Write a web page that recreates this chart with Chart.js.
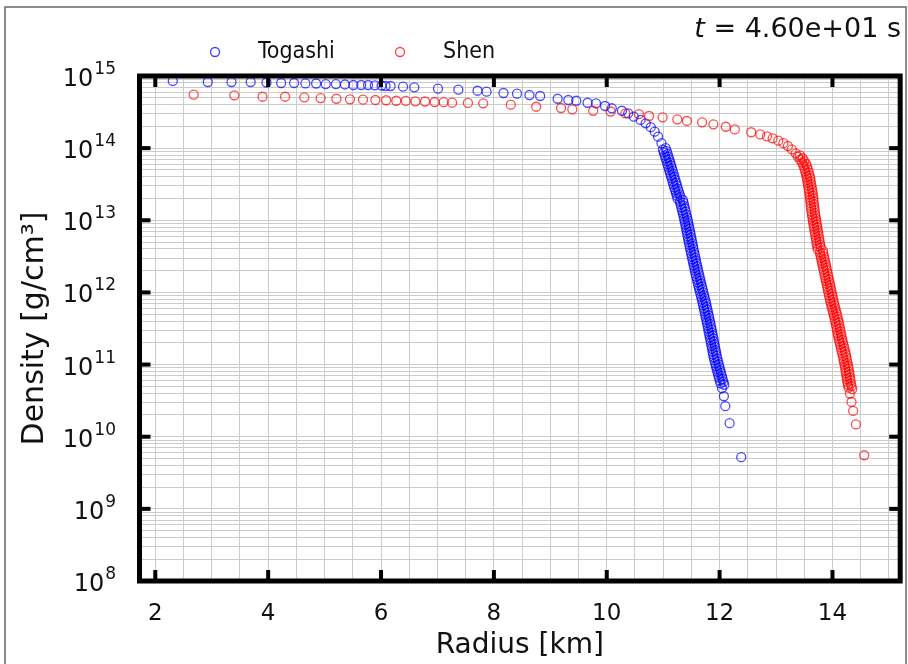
<!DOCTYPE html>
<html>
<head>
<meta charset="utf-8">
<script src="https://cdn.jsdelivr.net/npm/chart.js@4.4.1/dist/chart.umd.min.js"></script>
<style>
  html, body { margin: 0; padding: 0; background: #fff; }
  canvas { display: block; }
</style>
</head>
<body>
<canvas id="density-chart" width="908" height="664"></canvas>
<script>
// radius [km] and density [g/cm^3]
// (the steep parts are a dense band of overlapping markers)
const togashiRadius = [
  2.31, 2.93, 3.35, 3.69, 3.97, 4.23, 4.46, 4.66, 4.85, 5.02,
  5.20, 5.36, 5.51, 5.65, 5.77, 5.89, 6.01, 6.08, 6.17, 6.39,
  6.59, 7.01, 7.37, 7.71, 7.87, 8.17, 8.41, 8.63, 8.82, 9.13,
  9.32, 9.46, 9.66, 9.81, 9.97, 10.09, 10.27, 10.38, 10.48, 10.60,
  10.69, 10.78, 10.85, 10.91, 10.97,
  11.044, 10.994, 11.063, 11.011, 11.079, 11.027, 11.094, 11.042, 11.110, 11.058,
  11.126, 11.074, 11.141, 11.089, 11.156, 11.104, 11.171, 11.119, 11.186, 11.134,
  11.201, 11.149, 11.216, 11.164, 11.231, 11.179, 11.246, 11.194, 11.261, 11.209,
  11.277, 11.225, 11.292, 11.240, 11.307, 11.253, 11.349, 11.296, 11.362, 11.309,
  11.375, 11.321, 11.387, 11.334, 11.400, 11.347, 11.413, 11.359, 11.425, 11.371,
  11.436, 11.381, 11.446, 11.392, 11.457, 11.402, 11.467, 11.413, 11.478, 11.423,
  11.488, 11.433, 11.498, 11.443, 11.508, 11.453, 11.518, 11.463, 11.528, 11.474,
  11.539, 11.484, 11.549, 11.495, 11.560, 11.506, 11.571, 11.517, 11.582, 11.528,
  11.593, 11.539, 11.604, 11.550, 11.615, 11.561, 11.627, 11.573, 11.639, 11.585,
  11.651, 11.597, 11.663, 11.609, 11.675, 11.621, 11.687, 11.634, 11.700, 11.646,
  11.712, 11.659, 11.725, 11.672, 11.738, 11.685, 11.751, 11.697, 11.763, 11.709,
  11.774, 11.720, 11.785, 11.731, 11.796, 11.742, 11.807, 11.753, 11.818, 11.764,
  11.829, 11.775, 11.840, 11.785, 11.850, 11.795, 11.860, 11.805, 11.870, 11.815,
  11.880, 11.826, 11.891, 11.836, 11.900, 11.845, 11.910, 11.855, 11.920, 11.865,
  11.930, 11.875, 11.940, 11.885, 11.950, 11.895, 11.961, 11.908, 11.974, 11.921,
  11.987, 11.934, 12.000, 11.947, 12.013, 11.960, 12.027, 11.974, 12.040, 11.987,
  12.054, 12.001, 12.068, 12.016, 12.083,
  12.041, 12.076, 12.101, 12.177, 12.383
];
const togashiDensity = [
  8.53e14, 8.26e14, 8.26e14, 8.26e14, 8.13e14, 8.0e14, 8.0e14, 7.9e14, 7.87e14, 7.74e14,
  7.74e14, 7.63e14, 7.5e14, 7.5e14, 7.5e14, 7.43e14, 7.38e14, 7.27e14, 7.27e14, 7.11e14,
  6.97e14, 6.67e14, 6.46e14, 6.25e14, 6.06e14, 5.81e14, 5.68e14, 5.45e14, 5.28e14, 4.84e14,
  4.65e14, 4.54e14, 4.26e14, 4.18e14, 3.84e14, 3.57e14, 3.30e14, 3.04e14, 2.73e14, 2.46e14,
  2.21e14, 1.95e14, 1.69e14, 1.44e14, 1.17e14,
  1.00e14, 9.55e13, 9.12e13, 8.71e13, 8.32e13, 7.94e13, 7.59e13, 7.24e13, 6.92e13, 6.61e13,
  6.31e13, 6.03e13, 5.75e13, 5.50e13, 5.25e13, 5.01e13, 4.79e13, 4.57e13, 4.37e13, 4.17e13,
  3.98e13, 3.80e13, 3.63e13, 3.47e13, 3.31e13, 3.16e13, 3.02e13, 2.88e13, 2.75e13, 2.63e13,
  2.51e13, 2.40e13, 2.29e13, 2.19e13, 2.09e13, 2.00e13, 1.91e13, 1.82e13, 1.74e13, 1.66e13,
  1.58e13, 1.51e13, 1.45e13, 1.38e13, 1.32e13, 1.26e13, 1.20e13, 1.15e13, 1.10e13, 1.05e13,
  1.00e13, 9.55e12, 9.12e12, 8.71e12, 8.32e12, 7.94e12, 7.59e12, 7.24e12, 6.92e12, 6.61e12,
  6.31e12, 6.03e12, 5.75e12, 5.50e12, 5.25e12, 5.01e12, 4.79e12, 4.57e12, 4.37e12, 4.17e12,
  3.98e12, 3.80e12, 3.63e12, 3.47e12, 3.31e12, 3.16e12, 3.02e12, 2.88e12, 2.75e12, 2.63e12,
  2.51e12, 2.40e12, 2.29e12, 2.19e12, 2.09e12, 2.00e12, 1.91e12, 1.82e12, 1.74e12, 1.66e12,
  1.58e12, 1.51e12, 1.45e12, 1.38e12, 1.32e12, 1.26e12, 1.20e12, 1.15e12, 1.10e12, 1.05e12,
  1.00e12, 9.55e11, 9.12e11, 8.71e11, 8.32e11, 7.94e11, 7.59e11, 7.24e11, 6.92e11, 6.61e11,
  6.31e11, 6.03e11, 5.75e11, 5.50e11, 5.25e11, 5.01e11, 4.79e11, 4.57e11, 4.37e11, 4.17e11,
  3.98e11, 3.80e11, 3.63e11, 3.47e11, 3.31e11, 3.16e11, 3.02e11, 2.88e11, 2.75e11, 2.63e11,
  2.51e11, 2.40e11, 2.29e11, 2.19e11, 2.09e11, 2.00e11, 1.91e11, 1.82e11, 1.74e11, 1.66e11,
  1.58e11, 1.51e11, 1.45e11, 1.38e11, 1.32e11, 1.26e11, 1.20e11, 1.15e11, 1.10e11, 1.05e11,
  1.00e11, 9.55e10, 9.12e10, 8.71e10, 8.32e10, 7.94e10, 7.59e10, 7.24e10, 6.92e10, 6.61e10,
  6.31e10, 6.03e10, 5.75e10, 5.50e10, 5.25e10,
  4.70e10, 3.64e10, 2.65e10, 1.54e10, 5.20e9
];

const shenRadius = [
  2.68, 3.40, 3.90, 4.30, 4.64, 4.93, 5.21, 5.45, 5.68, 5.90,
  6.09, 6.27, 6.44, 6.61, 6.78, 6.95, 7.11, 7.26, 7.54, 7.81,
  8.30, 8.75, 9.19, 9.39, 9.76, 10.07, 10.33, 10.57, 10.75, 10.99,
  11.25, 11.42, 11.69, 11.89, 12.11, 12.27, 12.56, 12.72, 12.84, 12.94,
  13.04, 13.13, 13.21, 13.28, 13.35,
  13.424, 13.388, 13.472, 13.428, 13.503, 13.459, 13.534, 13.484, 13.553, 13.501,
  13.568, 13.515, 13.582, 13.529, 13.596, 13.542, 13.607, 13.551, 13.615, 13.559,
  13.623, 13.568, 13.632, 13.576, 13.640, 13.585, 13.649, 13.592, 13.655, 13.598,
  13.661, 13.604, 13.667, 13.610, 13.673, 13.616, 13.679, 13.621, 13.684, 13.627,
  13.690, 13.635, 13.699, 13.643, 13.707, 13.651, 13.715, 13.660, 13.724, 13.668,
  13.732, 13.676, 13.740, 13.685, 13.749, 13.693, 13.757, 13.702, 13.766, 13.711,
  13.775, 13.719, 13.783, 13.728, 13.792, 13.736, 13.830, 13.775, 13.839, 13.785,
  13.850, 13.796, 13.861, 13.807, 13.872, 13.818, 13.883, 13.829, 13.894, 13.840,
  13.905, 13.851, 13.916, 13.862, 13.927, 13.873, 13.938, 13.884, 13.949, 13.895,
  13.960, 13.906, 13.971, 13.916, 13.981, 13.927, 13.992, 13.938, 14.003, 13.949,
  14.014, 13.960, 14.026, 13.973, 14.039, 13.985, 14.051, 13.998, 14.064, 14.011,
  14.077, 14.023, 14.089, 14.036, 14.102, 14.048, 14.113, 14.058, 14.123, 14.069,
  14.134, 14.079, 14.144, 14.089, 14.154, 14.099, 14.164, 14.110, 14.175, 14.121,
  14.187, 14.134, 14.200, 14.146, 14.212, 14.159, 14.225, 14.171, 14.237, 14.182,
  14.247, 14.192, 14.257, 14.203, 14.268, 14.213, 14.278, 14.223, 14.287, 14.231,
  14.295, 14.239, 14.303, 14.247, 14.311, 14.255, 14.319, 14.263, 14.327, 14.273,
  14.338, 14.284, 14.350,
  14.309, 14.337, 14.367, 14.415, 14.562
];
const shenDensity = [
  5.51e14, 5.40e14, 5.16e14, 5.16e14, 5.06e14, 4.95e14, 4.84e14, 4.75e14, 4.69e14, 4.65e14,
  4.61e14, 4.54e14, 4.52e14, 4.46e14, 4.43e14, 4.36e14, 4.33e14, 4.27e14, 4.23e14, 4.18e14,
  4.00e14, 3.75e14, 3.60e14, 3.45e14, 3.30e14, 3.22e14, 3.04e14, 2.97e14, 2.79e14, 2.67e14,
  2.51e14, 2.38e14, 2.28e14, 2.14e14, 1.98e14, 1.82e14, 1.66e14, 1.55e14, 1.46e14, 1.37e14,
  1.27e14, 1.17e14, 1.07e14, 9.62e13, 8.47e13,
  7.94e13, 7.59e13, 7.24e13, 6.92e13, 6.61e13,
  6.31e13, 6.03e13, 5.75e13, 5.50e13, 5.25e13, 5.01e13, 4.79e13, 4.57e13, 4.37e13, 4.17e13,
  3.98e13, 3.80e13, 3.63e13, 3.47e13, 3.31e13, 3.16e13, 3.02e13, 2.88e13, 2.75e13, 2.63e13,
  2.51e13, 2.40e13, 2.29e13, 2.19e13, 2.09e13, 2.00e13, 1.91e13, 1.82e13, 1.74e13, 1.66e13,
  1.58e13, 1.51e13, 1.45e13, 1.38e13, 1.32e13, 1.26e13, 1.20e13, 1.15e13, 1.10e13, 1.05e13,
  1.00e13, 9.55e12, 9.12e12, 8.71e12, 8.32e12, 7.94e12, 7.59e12, 7.24e12, 6.92e12, 6.61e12,
  6.31e12, 6.03e12, 5.75e12, 5.50e12, 5.25e12, 5.01e12, 4.79e12, 4.57e12, 4.37e12, 4.17e12,
  3.98e12, 3.80e12, 3.63e12, 3.47e12, 3.31e12, 3.16e12, 3.02e12, 2.88e12, 2.75e12, 2.63e12,
  2.51e12, 2.40e12, 2.29e12, 2.19e12, 2.09e12, 2.00e12, 1.91e12, 1.82e12, 1.74e12, 1.66e12,
  1.58e12, 1.51e12, 1.45e12, 1.38e12, 1.32e12, 1.26e12, 1.20e12, 1.15e12, 1.10e12, 1.05e12,
  1.00e12, 9.55e11, 9.12e11, 8.71e11, 8.32e11, 7.94e11, 7.59e11, 7.24e11, 6.92e11, 6.61e11,
  6.31e11, 6.03e11, 5.75e11, 5.50e11, 5.25e11, 5.01e11, 4.79e11, 4.57e11, 4.37e11, 4.17e11,
  3.98e11, 3.80e11, 3.63e11, 3.47e11, 3.31e11, 3.16e11, 3.02e11, 2.88e11, 2.75e11, 2.63e11,
  2.51e11, 2.40e11, 2.29e11, 2.19e11, 2.09e11, 2.00e11, 1.91e11, 1.82e11, 1.74e11, 1.66e11,
  1.58e11, 1.51e11, 1.45e11, 1.38e11, 1.32e11, 1.26e11, 1.20e11, 1.15e11, 1.10e11, 1.05e11,
  1.00e11, 9.55e10, 9.12e10, 8.71e10, 8.32e10, 7.94e10, 7.59e10, 7.24e10, 6.92e10, 6.61e10,
  6.31e10, 6.03e10, 5.75e10, 5.50e10, 5.25e10, 5.01e10, 4.79e10, 4.57e10,
  3.97e10, 3.03e10, 2.28e10, 1.48e10, 5.53e9
];

const xTickLabels = [2, 4, 6, 8, 10, 12, 14];
const xGridLines = [2, 2.5, 3, 3.5, 4, 4.5, 5, 5.5, 6, 6.5, 7, 7.5, 8, 8.5, 9, 9.5, 10,
  10.5, 11, 11.5, 12, 12.5, 13, 13.5, 14, 14.5, 15];
const yDecades = [8, 9, 10, 11, 12, 13, 14, 15];
const timeLabel = '4.60e+01 s';

const FONT = '"DejaVu Sans", sans-serif';

function yGridTicks() {
  const out = [];
  yDecades.forEach(e => {
    if (e === 15) { out.push({ value: 1e15 }); return; }
    for (let m = 1; m <= 9; m++) out.push({ value: m * Math.pow(10, e) });
  });
  return out;
}

const points = (xs, ys) => xs.map((x, i) => ({ x: x, y: ys[i] }));

// frame, inward ticks, y labels with exponents, legend and time stamp
const decorPlugin = {
  id: 'decor',
  beforeDraw(chart) {
    const ctx = chart.ctx;
    ctx.save();
    ctx.fillStyle = '#fff';
    ctx.fillRect(0, 0, chart.width, chart.height);
    ctx.strokeStyle = '#666';
    ctx.lineWidth = 1.5;
    ctx.strokeRect(5, 7, 901, 700);
    ctx.restore();
  },
  afterDatasetsDraw(chart) {
    const ctx = chart.ctx;
    const a = chart.chartArea;
    const xs = chart.scales.x, ys = chart.scales.y;
    ctx.save();
    ctx.fillStyle = '#000';
    xTickLabels.forEach(v => {
      const px = xs.getPixelForValue(v);
      ctx.fillRect(px - 2, a.bottom - 11, 4, 11);
      ctx.fillRect(px - 2, a.top, 4, 11);
    });
    yDecades.forEach(e => {
      const py = ys.getPixelForValue(Math.pow(10, e));
      ctx.fillRect(a.left, py - 2, 11, 4);
      ctx.fillRect(a.right - 11, py - 2, 11, 4);
    });
    ctx.strokeStyle = '#000';
    ctx.lineWidth = 5;
    ctx.strokeRect(a.left, a.top, a.right - a.left, a.bottom - a.top);

    // y tick labels 10^e
    ctx.fillStyle = '#111';
    ctx.textBaseline = 'alphabetic';
    yDecades.forEach(e => {
      const py = ys.getPixelForValue(Math.pow(10, e));
      const exp = String(e);
      ctx.font = '17px ' + FONT;
      const ew = ctx.measureText(exp).width;
      const right = 116;
      ctx.textAlign = 'left';
      ctx.fillText(exp, right - ew, py - 2);
      ctx.font = '24px ' + FONT;
      ctx.textAlign = 'right';
      ctx.fillText('10', right - ew - 1, py + 10);
    });

    // legend
    const legend = [
      { label: 'Togashi', color: 'rgba(0,0,255,0.75)', x: 215 },
      { label: 'Shen', color: 'rgba(255,0,0,0.75)', x: 400 }
    ];
    ctx.lineWidth = 1.3;
    ctx.font = '23px "DejaVu Sans Condensed", ' + FONT;
    ctx.textAlign = 'left';
    ctx.textBaseline = 'middle';
    legend.forEach(item => {
      ctx.strokeStyle = item.color;
      ctx.beginPath();
      ctx.arc(item.x, 52, 4.5, 0, Math.PI * 2);
      ctx.stroke();
      ctx.fillStyle = '#111';
      ctx.fillText(item.label, item.x + 43, 52);
    });

    // time stamp, right aligned
    ctx.font = '27px ' + FONT;
    const restW = ctx.measureText(' = ' + timeLabel).width;
    ctx.textAlign = 'right';
    ctx.fillText(' = ' + timeLabel, 901, 30);
    ctx.font = 'italic 27px ' + FONT;
    ctx.fillText('t', 901 - restW, 30);
    ctx.restore();
  }
};

new Chart(document.getElementById('density-chart').getContext('2d'), {
  type: 'scatter',
  data: {
    datasets: [
      {
        label: 'Togashi',
        data: points(togashiRadius, togashiDensity),
        borderColor: 'rgba(0,0,255,0.7)',
        backgroundColor: 'rgba(0,0,0,0)',
        pointRadius: 4.5,
        pointBorderWidth: 1.3,
        order: 1
      },
      {
        label: 'Shen',
        data: points(shenRadius, shenDensity),
        borderColor: 'rgba(255,0,0,0.7)',
        backgroundColor: 'rgba(0,0,0,0)',
        pointRadius: 4.5,
        pointBorderWidth: 1.3,
        order: 0
      }
    ]
  },
  options: {
    responsive: false,
    animation: false,
    devicePixelRatio: 1,
    layout: { padding: { top: 76, right: 7, left: 0, bottom: 0 } },
    plugins: {
      legend: { display: false },
      tooltip: { enabled: false }
    },
    scales: {
      x: {
        type: 'linear',
        min: 1.72,
        max: 15.2,
        afterBuildTicks: axis => { axis.ticks = xGridLines.map(v => ({ value: v })); },
        afterFit: axis => { axis.height = 83; },
        grid: { color: '#cbcbcb', lineWidth: 1, drawTicks: false },
        border: { display: false },
        ticks: {
          autoSkip: false,
          maxRotation: 0,
          padding: 19,
          color: '#111',
          font: { family: FONT, size: 23 },
          callback: v => xTickLabels.includes(v) ? String(v) : ''
        },
        title: {
          display: true,
          text: 'Radius [km]',
          color: '#111',
          font: { family: FONT, size: 28 },
          padding: { top: 0, bottom: 1 }
        }
      },
      y: {
        type: 'logarithmic',
        min: 1e8,
        max: 1e15,
        afterBuildTicks: axis => { axis.ticks = yGridTicks(); },
        afterFit: axis => { axis.width = 139.5; },
        grid: { color: '#cbcbcb', lineWidth: 1, drawTicks: false },
        border: { display: false },
        ticks: { autoSkip: false, callback: () => '' },
        title: {
          display: true,
          text: 'Density [g/cm\u00b3]',
          color: '#111',
          font: { family: FONT, size: 30 },
          padding: { top: 17, bottom: 0 }
        }
      }
    }
  },
  plugins: [decorPlugin]
});
</script>
</body>
</html>
